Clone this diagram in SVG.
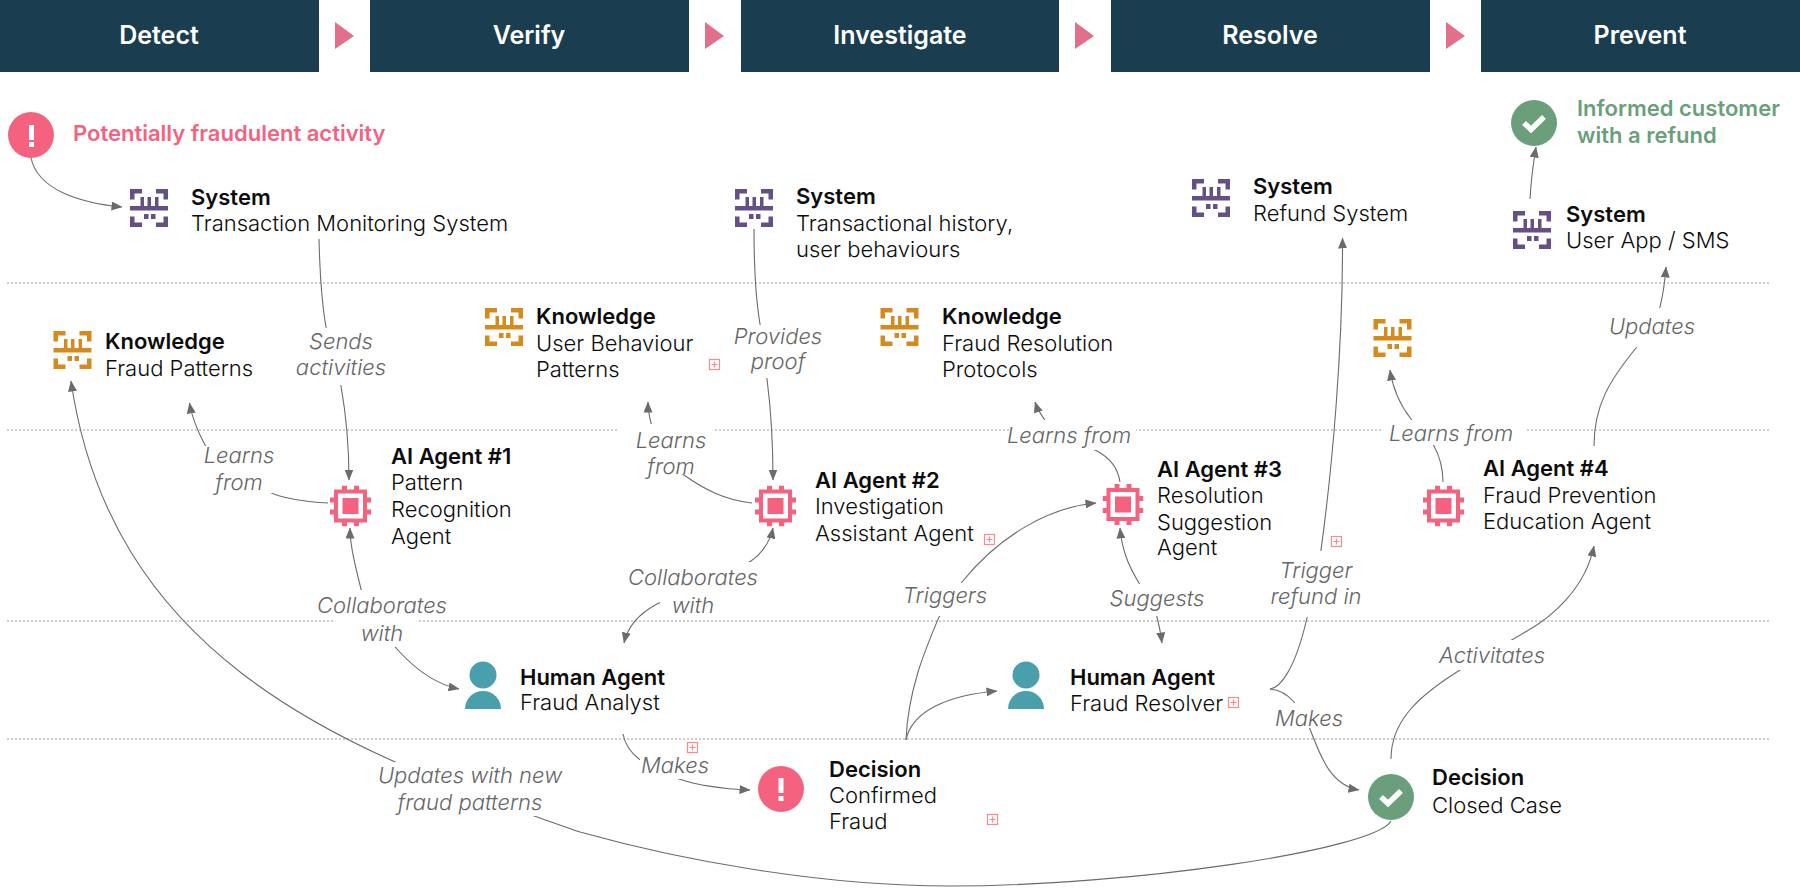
<svg xmlns="http://www.w3.org/2000/svg" width="1800" height="896" viewBox="0 0 1800 896">
<style>
text{font-family:"Inter","Liberation Sans",sans-serif;font-size:22px;fill:#0c0c0c;font-weight:300}
.b{font-weight:600}
.hd{font-weight:600;font-size:25px;fill:#fff;text-anchor:middle}
.lb{font-style:italic;fill:#666;text-anchor:middle;font-weight:300}
.e{fill:none;stroke:#6b6b6b;stroke-width:1.1}
.arr{marker-end:url(#a)}
.both{marker-end:url(#a);marker-start:url(#as)}
.dot{stroke:#bdbdbd;stroke-width:1.4;stroke-dasharray:2 2}
.bg{fill:#fff}
.pl{fill:#fff;stroke:#f98a92;stroke-width:1.2}
.plc{stroke:#f98a92;stroke-width:1.2}
.tri{fill:#e2708a}
.bar{fill:#1a3d50}
.sys{fill:#654f85}
.kn{fill:#d48a1c}
.red{fill:#f4627f}
.grn{fill:#6b9f7b}
.wh{fill:#fff}
.wl{fill:none;stroke:#fff;stroke-width:5.500}
</style>
<defs>
<marker id="a" viewBox="0 0 11 9" refX="10.500" refY="4.500" markerWidth="11" markerHeight="9" orient="auto" markerUnits="userSpaceOnUse"><path d="M0 0L11 4.500L0 9Z" fill="#6b6b6b"/></marker>
<marker id="as" viewBox="0 0 11 9" refX="0.500" refY="4.500" markerWidth="11" markerHeight="9" orient="auto" markerUnits="userSpaceOnUse"><path d="M11 0L0 4.500L11 9Z" fill="#6b6b6b"/></marker>
<symbol id="scan" viewBox="0 0 38 38" overflow="visible"><path d="M0 0H12V4.500H4.500V10.500H0ZM26 0H38V10.500H33.500V4.500H26ZM0 17H38V21.500H0ZM10.500 8H14V17H10.500ZM17.500 8H21V17H17.500ZM25 8H28.500V17H25ZM14 25H18.500V30H14ZM21 25H25.500V30H21ZM0 27.500H4.500V33.500H12V38H0ZM33.500 27.500H38V38H26V33.500H33.500Z"/></symbol>
<symbol id="chip" viewBox="0 0 41 41"><path fill-rule="evenodd" fill="#f4627f" d="M12 0H17V4H24V0H29V4H37V12H41V17H37V24H41V29H37V37H29V41H24V37H17V41H12V37H4V29H0V24H4V17H0V12H4V4H12ZM8 8V33H33V8ZM12.500 12.500H28.500V28.500H12.500Z"/></symbol>
<symbol id="person" viewBox="0 0 36 48"><circle cx="18" cy="14" r="13.500" fill="#4a9fad"/><path d="M0 48A18 18 0 0 1 36 48Z" fill="#4a9fad"/></symbol>
<symbol id="plus" viewBox="0 0 11 11" overflow="visible"><rect class="pl" x="0.500" y="0.500" width="10" height="10"/><path class="plc" d="M5.500 2.500V8.500M2.500 5.500H8.500"/></symbol>
</defs>

<g id="phases">
<g id="phase-detect"><rect class="bar" x="0" y="0" width="319" height="72"/><text class="hd" x="159" y="44">Detect</text></g>
<path class="tri" d="M335 22L354 36L335 49Z"/>
<g id="phase-verify"><rect class="bar" x="370" y="0" width="319" height="72"/><text class="hd" x="529" y="44">Verify</text></g>
<path class="tri" d="M705 22L724 36L705 49Z"/>
<g id="phase-investigate"><rect class="bar" x="741" y="0" width="318" height="72"/><text class="hd" x="900" y="44">Investigate</text></g>
<path class="tri" d="M1075 22L1094 36L1075 49Z"/>
<g id="phase-resolve"><rect class="bar" x="1111" y="0" width="319" height="72"/><text class="hd" x="1270" y="44">Resolve</text></g>
<path class="tri" d="M1446 22L1465 36L1446 49Z"/>
<g id="phase-prevent"><rect class="bar" x="1481" y="0" width="319" height="72"/><text class="hd" x="1640" y="44">Prevent</text></g>
</g>

<g id="swimlanes">
<path class="dot" d="M7 283H1769M7 430H1769M7 621H1769M7 739H1769"/>
</g>

<g id="connectors">
<path class="e arr" d="M31 158C38 190 80 203 122 207"/>
<path class="e arr" d="M319 239C320 280 323 310 326 327C330 345 337 365 341 386C347 420 349 450 349 480"/>
<path class="e arr" d="M328 503C310 502 290 500 274 494C240 480 216 465 205 445C197 430 192 418 189.500 403"/>
<path class="e arr" d="M1391 821C1375 850 1130 886 950 886C820 886 680 860 580 832C560 825 548 821 540 818C330 745 110 650 71 381"/>
<path class="e both" d="M459 689C415 680 375 630 361 589C355 565 350 545 350 528"/>
<path class="e arr" d="M752 503C725 500 705 490 684 475C670 465 655 440 651 423C649 415 648 410 648 402"/>
<path class="e arr" d="M754 229C754 270 756 300 760 324C762 340 765 360 767 379C771 410 773 450 773 480"/>
<path class="e both" d="M624 643C628 625 642 612 657 604L751 561C760 555 770 543 773 528"/>
<path class="e arr" d="M1120 482C1118 468 1110 458 1097 451C1075 440 1055 435 1044 419C1040 413 1037 408 1035 402"/>
<path class="e arr" d="M906 740C908 690 925 650 939 617L962 582C1000 535 1050 507 1096 503"/>
<path class="e arr" d="M906 740C912 710 950 695 997 691"/>
<path class="e both" d="M1162 643C1161 635 1159 625 1157 617C1155 605 1150 597 1139 583C1128 565 1122 550 1120 528"/>
<path class="e arr" d="M1270 689C1280 688 1295 670 1307 618L1321 550C1332 470 1343 350 1342.500 238"/>
<path class="e arr" d="M1270 689C1280 690 1288 695 1294 702L1310 729C1320 755 1330 785 1359 790"/>
<path class="e arr" d="M1391 759C1391 720 1420 695 1460 670L1527 631C1550 618 1585 590 1594 546"/>
<path class="e arr" d="M1443 482C1443 468 1440 457 1434 446C1428 435 1420 430 1411 419C1400 405 1393 390 1390 370"/>
<path class="e arr" d="M1594 446C1594 405 1610 380 1636 348L1660 307C1663 295 1665 280 1666 267"/>
<path class="e arr" d="M1530 199C1531 180 1533 165 1536 147"/>
<path class="e arr" d="M623 734C625 745 630 752 639 759L679 779C700 786 725 789 750 790"/>
</g>

<g id="labels">
<g id="l-sends"><rect class="bg" x="296" y="328" width="90" height="57"/><text class="lb" x="341" y="349">Sends</text><text class="lb" x="341" y="375">activities</text></g>
<g id="l-learns1"><rect class="bg" x="204" y="446" width="70" height="47"/><text class="lb" x="239" y="463">Learns</text><text class="lb" x="239" y="490">from</text></g>
<g id="l-collab1"><rect class="bg" x="316" y="590" width="133" height="30"/><rect class="bg" x="333" y="620" width="85" height="27"/><text class="lb" x="382" y="613">Collaborates</text><text class="lb" x="382" y="641">with</text></g>
<g id="l-updates"><rect class="bg" x="374" y="762" width="192" height="54"/><text class="lb" x="470" y="783">Updates with new</text><text class="lb" x="470" y="810">fraud patterns</text></g>
<g id="l-learns2"><rect class="bg" x="617" y="424" width="98" height="50"/><text class="lb" x="671" y="448">Learns</text><text class="lb" x="671" y="474">from</text></g>
<g id="l-proof"><rect class="bg" x="735" y="325" width="86" height="53"/><text class="lb" x="778" y="344">Provides</text><text class="lb" x="778" y="369">proof</text></g>
<g id="l-collab2"><rect class="bg" x="625" y="562" width="136" height="28"/><rect class="bg" x="660" y="590" width="66" height="30"/><text class="lb" x="693" y="585">Collaborates</text><text class="lb" x="693" y="613">with</text></g>
<g id="l-learns3"><rect class="bg" x="1010" y="420" width="126" height="30"/><text class="lb" x="1069" y="443">Learns from</text></g>
<g id="l-triggers"><rect class="bg" x="903" y="583" width="84" height="33"/><text class="lb" x="945" y="603">Triggers</text></g>
<g id="l-suggests"><rect class="bg" x="1108" y="584" width="99" height="32"/><text class="lb" x="1157" y="606">Suggests</text></g>
<g id="l-refund"><rect class="bg" x="1270" y="551" width="92" height="66"/><text class="lb" x="1316" y="578">Trigger</text><text class="lb" x="1316" y="604">refund in</text></g>
<g id="l-makes2"><rect class="bg" x="1274" y="703" width="71" height="25"/><text class="lb" x="1309" y="726">Makes</text></g>
<g id="l-activ"><rect class="bg" x="1436" y="640" width="112" height="30"/><text class="lb" x="1492" y="663">Activitates</text></g>
<g id="l-learns4"><rect class="bg" x="1382" y="420" width="145" height="25"/><text class="lb" x="1451" y="441">Learns from</text></g>
<g id="l-updates2"><rect class="bg" x="1608" y="308" width="89" height="39"/><text class="lb" x="1652" y="334">Updates</text></g>
<g id="l-makes1"><rect class="bg" x="640" y="756" width="70" height="23"/><text class="lb" x="675" y="773">Makes</text></g>
</g>

<g id="n-alert"><circle class="red" cx="31" cy="135" r="23"/><rect class="wh" x="29" y="125" width="5" height="15"/><rect class="wh" x="29" y="142" width="5" height="5"/><text class="b" x="73" y="141" style="fill:#f4627f">Potentially fraudulent activity</text></g>
<g id="n-sys1"><use href="#scan" x="130" y="189" width="38" height="38" class="sys"/><text class="b" x="191" y="205">System</text><text x="191" y="231">Transaction Monitoring System</text></g>
<g id="n-sys2"><use href="#scan" x="735" y="189" width="38" height="38" class="sys"/><text class="b" x="796" y="204">System</text><text x="796" y="231">Transactional history,</text><text x="796" y="257">user behaviours</text></g>
<g id="n-sys3"><use href="#scan" x="1192" y="179" width="38" height="38" class="sys"/><text class="b" x="1253" y="194">System</text><text x="1253" y="221">Refund System</text></g>
<g id="n-sys4"><use href="#scan" x="1513" y="211" width="38" height="38" class="sys"/><text class="b" x="1566" y="222">System</text><text x="1566" y="248">User App / SMS</text></g>
<g id="n-done"><circle class="grn" cx="1534" cy="123" r="23"/><path class="wl" d="M1524 123L1531 129.500L1544 117"/><text class="b" x="1577" y="116" style="fill:#6b9f7b">Informed customer</text><text class="b" x="1577" y="143" style="fill:#6b9f7b">with a refund</text></g>
<g id="n-k1"><use href="#scan" x="53.500" y="331" width="38" height="38" class="kn"/><text class="b" x="105" y="349">Knowledge</text><text x="105" y="376">Fraud Patterns</text></g>
<g id="n-k2"><use href="#scan" x="485" y="308" width="38" height="38" class="kn"/><text class="b" x="536" y="324">Knowledge</text><text x="536" y="351">User Behaviour</text><text x="536" y="377">Patterns</text><use href="#plus" x="709" y="359" width="11" height="11"/></g>
<g id="n-k3"><use href="#scan" x="880.500" y="308" width="38" height="38" class="kn"/><text class="b" x="942" y="324">Knowledge</text><text x="942" y="351">Fraud Resolution</text><text x="942" y="377">Protocols</text></g>
<g id="n-k4"><use href="#scan" x="1373.500" y="319" width="38" height="38" class="kn"/></g>
<g id="n-a1"><use href="#chip" x="330" y="485.500" width="41" height="41"/><text class="b" x="391" y="464">AI Agent #1</text><text x="391" y="490">Pattern</text><text x="391" y="517">Recognition</text><text x="391" y="544">Agent</text></g>
<g id="n-a2"><use href="#chip" x="755" y="485.500" width="41" height="41"/><text class="b" x="815" y="488">AI Agent #2</text><text x="815" y="514">Investigation</text><text x="815" y="541">Assistant Agent</text><use href="#plus" x="984" y="534" width="11" height="11"/></g>
<g id="n-a3"><use href="#chip" x="1102.500" y="484" width="41" height="41"/><text class="b" x="1157" y="477">AI Agent #3</text><text x="1157" y="503">Resolution</text><text x="1157" y="530">Suggestion</text><text x="1157" y="555">Agent</text><use href="#plus" x="1331" y="536" width="11" height="11"/></g>
<g id="n-a4"><use href="#chip" x="1423" y="485.500" width="41" height="41"/><text class="b" x="1483" y="476">AI Agent #4</text><text x="1483" y="503">Fraud Prevention</text><text x="1483" y="529">Education Agent</text></g>
<g id="n-h1"><use href="#person" x="465" y="661" width="36" height="48"/><text class="b" x="520" y="685">Human Agent</text><text x="520" y="710">Fraud Analyst</text><use href="#plus" x="687" y="742" width="11" height="11"/></g>
<g id="n-h2"><use href="#person" x="1008" y="661" width="36" height="48"/><text class="b" x="1070" y="685">Human Agent</text><text x="1070" y="711">Fraud Resolver</text><use href="#plus" x="1228" y="697" width="11" height="11"/></g>
<g id="n-d1"><circle class="red" cx="781" cy="789" r="23"/><rect class="wh" x="778.500" y="778" width="5" height="15"/><rect class="wh" x="778.500" y="796" width="5" height="5"/><text class="b" x="829" y="777">Decision</text><text x="829" y="803">Confirmed</text><text x="829" y="829">Fraud</text><use href="#plus" x="987" y="814" width="11" height="11"/></g>
<g id="n-d2"><circle class="grn" cx="1391" cy="797" r="23"/><path class="wl" d="M1381 797L1388 803.500L1401 791"/><text class="b" x="1432" y="785">Decision</text><text x="1432" y="813">Closed Case</text></g>
</svg>
